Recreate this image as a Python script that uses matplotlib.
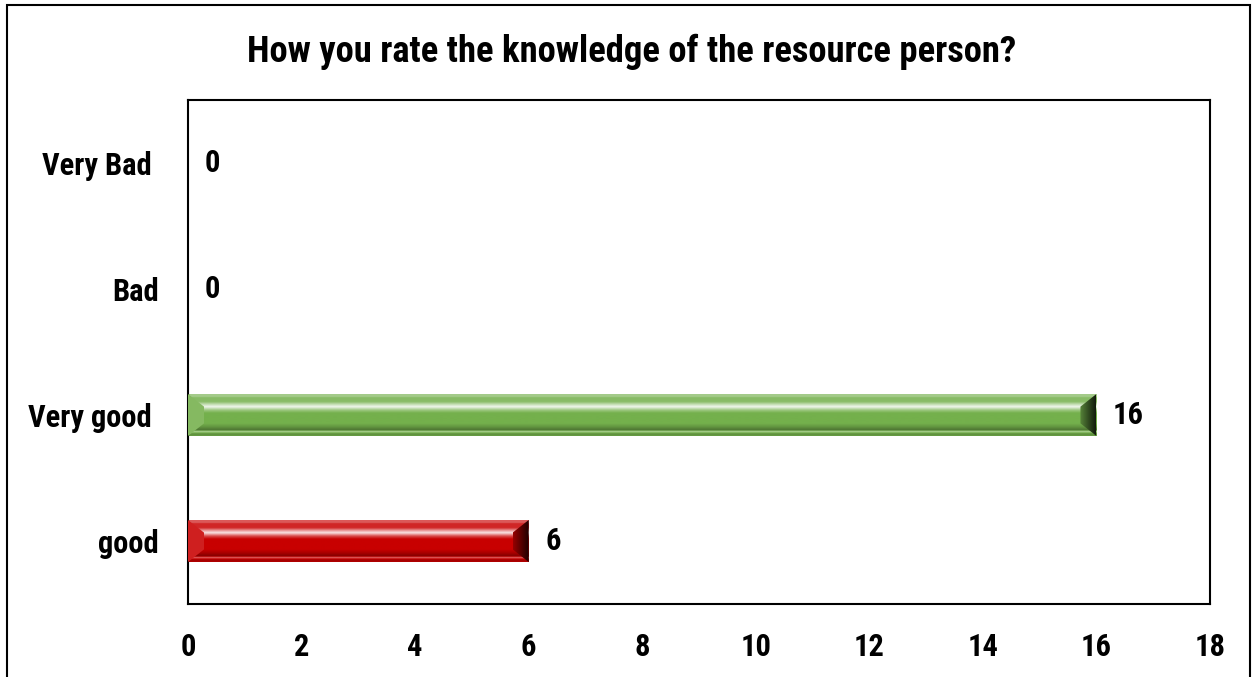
import numpy as np
import matplotlib
matplotlib.use("Agg")
import matplotlib.pyplot as plt
from matplotlib.patches import Polygon, Rectangle
from matplotlib.colors import to_rgb

# ---- data ----
categories = ["good", "Very good", "Bad", "Very Bad"]
values = [6, 16, 0, 0]
bar_colors = ["#C80000", "#74B04C", "#8064A2", "#4F81BD"]
x_ticks = [0, 2, 4, 6, 8, 10, 12, 14, 16, 18]
title = "How you rate the knowledge of the resource person?"

plt.rcParams["font.family"] = ["Roboto Condensed", "Liberation Sans", "DejaVu Sans"]
plt.rcParams["font.weight"] = "bold"

W, H = 1257, 677
fig = plt.figure(figsize=(W / 100, H / 100), dpi=100)
ax = fig.add_axes([188 / W, 73 / H, 1022 / W, 504 / H])

ypos = np.arange(len(categories))
bar_h = 0.333
xmax = 18
px_per_unit = 1022 / xmax
ax.set_xlim(0, xmax)
ax.set_ylim(-0.5, len(categories) - 0.5)

bars = ax.barh(ypos, values, height=bar_h, color=bar_colors, linewidth=0, zorder=1)


def shade(c, amt):
    c = np.array(to_rgb(c))
    if amt >= 0:
        return c + (1 - c) * amt
    return c * (1 + amt)


# vertical bevel profile (style keypoints: t from top 0 -> bottom 1, lighten(+)/darken(-))
prof_t = [0.0, 0.06, 0.08, 0.18, 0.24, 0.30, 0.38, 0.45, 0.70, 0.78, 0.86, 0.89, 0.92, 0.95, 1.0]
prof_a = [0.35, 0.35, 0.15, 0.15, 0.55, 0.9, 0.3, 0.0, 0.0, -0.15, -0.35, 0.45, 0.1, -0.2, -0.1]

bev = 16 / px_per_unit

for rect, v, col in zip(bars, values, bar_colors):
    if v <= 0:
        continue
    y0 = rect.get_y()
    y1 = y0 + rect.get_height()
    tt = np.linspace(0, 1, 200)
    aa = np.interp(tt, prof_t, prof_a)
    img = np.array([shade(col, a) for a in aa]).reshape(-1, 1, 3)
    im = ax.imshow(img, extent=(0, v, y0, y1), aspect="auto", origin="upper",
                   interpolation="bilinear", zorder=2)
    im.set_clip_path(rect)
    hh = y1 - y0
    # left facet (lighter)
    lp = Polygon([(0, y1), (bev, y1 - hh * 0.3), (bev, y0 + hh * 0.3), (0, y0)],
                 closed=True, facecolor=shade(col, 0.12), edgecolor="none", zorder=3)
    ax.add_patch(lp)
    # right facet (darker, horizontal gradient)
    rp = Polygon([(v, y1), (v - bev, y1 - hh * 0.3), (v - bev, y0 + hh * 0.3), (v, y0)],
                 closed=True, facecolor="none", edgecolor="none", zorder=3)
    ax.add_patch(rp)
    xs = np.linspace(0, 1, 50)
    rimg = np.array([shade(col, -0.25 - 0.6 * s) for s in xs]).reshape(1, -1, 3)
    rim = ax.imshow(rimg, extent=(v - bev, v, y0, y1), aspect="auto",
                    interpolation="bilinear", zorder=3)
    rim.set_clip_path(rp)

ax.set_xlim(0, xmax)
ax.set_ylim(-0.5, len(categories) - 0.5)

# value labels
for y, v in zip(ypos, values):
    ax.annotate(str(v), xy=(v, y), xytext=(12, 0), textcoords="offset points",
                ha="left", va="center", fontsize=22, fontweight="bold", zorder=5)

ax.set_xticks(x_ticks)
ax.set_xticklabels([str(t) for t in x_ticks], fontsize=22, fontweight="bold")
ax.set_yticks(ypos)
ylabels = [c + (" " if c.startswith("Very") else "") for c in categories]
ax.set_yticklabels(ylabels, fontsize=22, fontweight="bold")
ax.tick_params(axis="x", length=0, pad=20)
ax.tick_params(axis="y", length=0, pad=21)
for s in ax.spines.values():
    s.set_linewidth(1.5)
    s.set_color("black")

fig.text(632 / W, 1 - 62 / H, title, ha="center", va="baseline",
         fontsize=26.4, fontweight="bold")

border = Rectangle((7 / W, -0.02), (1250 - 7) / W, 1.02 - 5 / H, transform=fig.transFigure,
                   fill=False, edgecolor="black", linewidth=1.5, clip_on=False)
fig.add_artist(border)

fig.savefig("out.png", dpi=100)
